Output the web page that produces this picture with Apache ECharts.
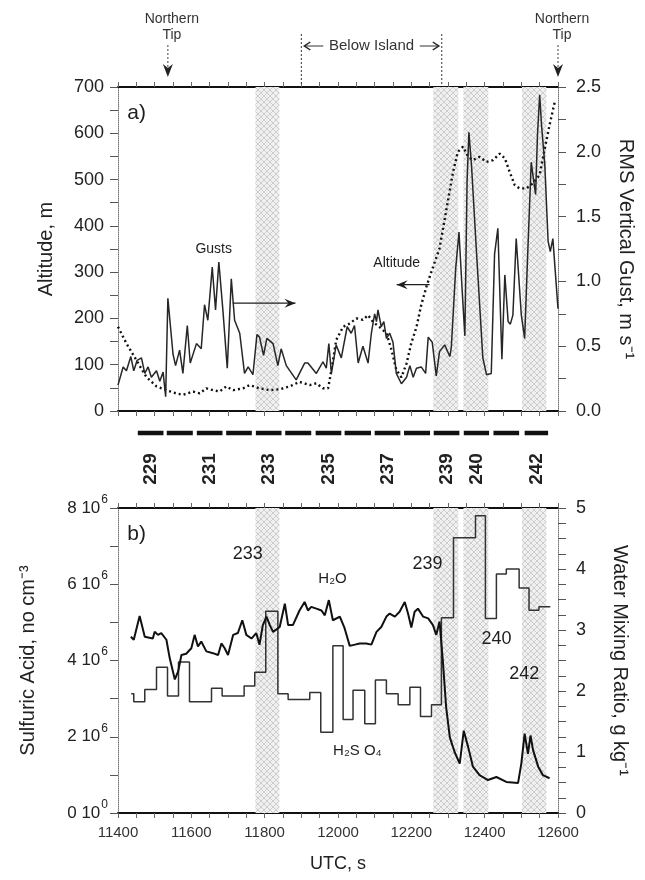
<!DOCTYPE html>
<html>
<head>
<meta charset="utf-8">
<script src="https://cdn.jsdelivr.net/npm/echarts@6.0.0/dist/echarts.min.js"></script>
<style>
  html, body { margin: 0; padding: 0; background: #fff; }
  #chart { width: 645px; height: 880px; }
</style>
</head>
<body>
<div id="chart"></div>
<script>
// ---- time axis (UTC seconds) ----
const utcMin = 11400;
const utcMax = 12600;

// ---- panel a: RMS vertical gust, m/s  [UTC, value] ----
const gust = [
  [11400,0.20],[11414,0.34],[11423,0.31],[11435,0.42],[11443,0.31],[11452,0.39],[11464,0.41],
  [11473,0.29],[11482,0.34],[11491,0.26],[11505,0.31],[11514,0.23],[11523,0.30],[11530,0.11],
  [11536,0.87],[11550,0.44],[11557,0.35],[11568,0.47],[11577,0.29],[11589,0.66],[11597,0.37],
  [11614,0.52],[11627,0.48],[11636,0.82],[11645,0.70],[11657,1.11],[11666,0.78],[11675,1.15],
  [11686,0.78],[11698,0.33],[11709,1.02],[11718,0.70],[11732,0.60],[11745,0.29],[11755,0.34],
  [11768,0.28],[11779,0.59],[11786,0.57],[11797,0.43],[11806,0.56],[11823,0.52],[11836,0.35],
  [11845,0.48],[11859,0.35],[11886,0.24],[11909,0.37],[11918,0.37],[11941,0.29],[11959,0.38],
  [11968,0.33],[11975,0.52],[11982,0.29],[11995,0.51],[12009,0.41],[12025,0.65],[12036,0.60],
  [12045,0.66],[12055,0.37],[12068,0.50],[12082,0.37],[12091,0.60],[12100,0.75],[12105,0.69],
  [12109,0.78],[12118,0.65],[12125,0.69],[12132,0.56],[12141,0.60],[12150,0.53],[12159,0.29],
  [12173,0.21],[12187,0.26],[12196,0.35],[12205,0.26],[12214,0.33],[12227,0.34],[12239,0.29],
  [12246,0.57],[12257,0.53],[12268,0.27],[12277,0.46],[12291,0.51],[12305,0.42],[12309,0.49],
  [12321,1.10],[12330,1.38],[12339,0.91],[12346,0.58],[12352,1.77],[12357,2.15],[12364,1.90],
  [12377,1.26],[12395,0.41],[12405,0.28],[12418,0.29],[12427,1.21],[12436,1.41],[12447,0.40],
  [12455,1.05],[12464,0.69],[12470,0.67],[12477,0.74],[12486,1.33],[12500,0.74],[12509,0.56],
  [12518,1.26],[12527,1.92],[12534,1.77],[12539,1.67],[12544,2.13],[12550,2.44],[12555,2.21],
  [12564,1.90],[12573,1.31],[12579,1.23],[12586,1.33],[12600,0.79]
];

// ---- panel a: aircraft altitude, m  [UTC, value] ----
const altitude = [
  [11400,182],[11423,146],[11450,110],[11477,74],[11505,53],[11532,45],[11559,38],[11577,35],
  [11605,42],[11623,38],[11641,49],[11659,45],[11677,42],[11695,53],[11714,45],[11741,49],
  [11759,56],[11786,49],[11814,45],[11841,47],[11868,53],[11895,63],[11923,56],[11941,60],
  [11959,49],[11973,49],[11982,88],[11995,153],[12014,182],[12032,189],[12050,200],[12068,197],
  [12082,207],[12096,192],[12114,181],[12132,168],[12146,132],[12159,89],[12173,73],[12187,103],
  [12200,147],[12214,181],[12227,229],[12241,268],[12250,290],[12277,352],[12296,437],[12314,517],
  [12327,560],[12341,571],[12355,549],[12368,542],[12386,549],[12405,538],[12423,542],[12441,556],
  [12455,546],[12468,517],[12482,488],[12495,481],[12514,481],[12532,492],[12550,510],[12564,567],
  [12577,618],[12591,667]
];

// ---- panel b: sulfuric acid, 10^6 cm^-3 (value held from each time to the next) ----
const h2so4 = [
  [11436,3.13],[11443,2.92],[11473,3.24],[11505,3.82],[11535,3.07],[11565,3.96],[11595,2.92],
  [11655,3.27],[11684,3.07],[11744,3.33],[11773,3.69],[11803,5.29],[11836,3.13],[11864,2.98],
  [11923,3.16],[11953,2.12],[11986,4.39],[12014,2.45],[12041,3.22],[12073,2.34],[12102,3.49],
  [12132,3.13],[12164,2.84],[12196,3.30],[12225,2.53],[12255,2.84],[12282,5.12],[12315,7.22],
  [12375,7.80],[12402,5.10],[12432,6.27],[12459,6.40],[12494,5.90],[12521,5.32],[12548,5.41],
  [12579,5.41]
];

// ---- panel b: water mixing ratio, g/kg  [UTC, value] ----
const h2o = [
  [11435,2.89],[11443,2.84],[11459,3.23],[11473,2.89],[11495,2.86],[11500,2.97],[11509,2.92],
  [11518,2.95],[11532,2.84],[11541,2.54],[11555,2.19],[11564,2.32],[11573,2.59],[11586,2.61],
  [11600,2.70],[11609,2.92],[11618,2.73],[11627,2.81],[11641,2.65],[11659,2.62],[11673,2.59],
  [11682,2.78],[11691,2.70],[11700,2.59],[11714,2.92],[11727,2.95],[11739,3.16],[11750,2.92],
  [11764,2.86],[11777,2.95],[11786,2.76],[11795,3.08],[11805,3.22],[11814,3.08],[11823,2.97],
  [11841,3.05],[11855,3.43],[11864,3.08],[11877,3.08],[11895,3.32],[11909,3.46],[11918,3.32],
  [11927,3.38],[11941,3.35],[11955,3.32],[11964,3.24],[11975,3.49],[11986,3.16],[12005,3.22],
  [12018,3.03],[12032,2.74],[12046,2.76],[12059,2.78],[12077,2.78],[12091,2.76],[12105,2.97],
  [12118,3.05],[12132,3.22],[12141,3.27],[12155,3.22],[12168,3.30],[12182,3.46],[12191,3.27],
  [12200,3.04],[12209,3.30],[12218,3.35],[12232,3.22],[12246,3.19],[12259,3.08],[12268,2.92],
  [12277,3.14],[12286,2.49],[12295,1.73],[12305,1.24],[12318,1.00],[12332,0.81],[12343,1.35],
  [12355,1.08],[12368,0.76],[12386,0.62],[12409,0.54],[12432,0.59],[12459,0.51],[12491,0.49],
  [12500,0.81],[12509,1.30],[12518,0.97],[12525,1.27],[12532,1.03],[12546,0.76],[12559,0.62],
  [12577,0.57]
];

// ---- sampling intervals shaded in both panels [start, end] ----
const sampleBands = [[11775,11840],[12260,12328],[12342,12410],[12502,12568]];

// ---- flight legs 229..242 [start, end] and their printed numbers ----
const legSpans = [
  [11454,11524],[11533,11604],[11615,11685],[11695,11765],[11776,11846],[11856,11927],
  [11939,12009],[12018,12090],[12100,12170],[12180,12251],[12261,12331],[12343,12412],
  [12424,12494],[12509,12573]
];
const legNames = ['229','','231','','233','','235','','237','','239','240','','242'];

// ---- geographic markers above panel a ----
const tipTimes = [11536, 12600];
const belowIsland = [[11900, 12283]];

// ---- text notes ----
const panelATags = [[11451, 644]];
const panelATagText = ['a)'];
const panelANotes = [[11661, 350], [12160, 320]];
const panelANoteText = ['Gusts', 'Altitude'];
const panelAArrows = [[11713, 233, 11884, 233], [12250, 273, 12160, 273]];
const panelBTags = [[11451, 7.32]];
const panelBTagText = ['b)'];
const panelBLegs = [[11754, 6.80], [12244, 6.53], [12432, 4.57], [12508, 3.65]];
const panelBLegText = ['233', '239', '240', '242'];
const panelBNotes = [[11985, 6.14], [12053, 1.63]];
const panelBNoteText = ['H\u2082O', 'H\u2082S O\u2084'];

const FONT = '"Liberation Sans", Arial, Helvetica, sans-serif';
const INK = '#1e1e1e';

// light cross-hatch used for the sampling intervals
function hatchPattern() {
  const c = document.createElement('canvas');
  c.width = 6; c.height = 6;
  const g = c.getContext('2d');
  g.fillStyle = '#f0f0f0';
  g.fillRect(0, 0, 6, 6);
  g.strokeStyle = '#cdcdcd';
  g.lineWidth = 1;
  g.beginPath();
  g.moveTo(0, 0); g.lineTo(6, 6);
  g.moveTo(6, 0); g.lineTo(0, 6);
  g.stroke();
  return c;
}
const hatch = { image: hatchPattern(), repeat: 'repeat' };
const bandArea = {
  silent: true,
  itemStyle: { color: hatch },
  data: sampleBands.map(b => [{ xAxis: b[0] }, { xAxis: b[1] }])
};

function timeAxis(grid, pos, withLabels) {
  return {
    type: 'value', gridIndex: grid, position: pos,
    min: utcMin, max: utcMax, interval: 200,
    axisLine: { onZero: false, lineStyle: { color: '#111', width: 2 } },
    axisTick: { show: true, length: 5, lineStyle: { color: '#666', width: 1 } },
    minorTick: { show: true, splitNumber: 4, length: 5, lineStyle: { color: '#666', width: 1 } },
    splitLine: { show: false },
    axisLabel: withLabels
      ? { show: true, formatter: v => String(v), fontFamily: FONT, fontSize: 15, color: '#333', margin: 12 }
      : { show: false }
  };
}
function hiddenAxis(grid) {
  return { type: 'value', gridIndex: grid, min: 0, max: 1, show: false,
           splitLine: { show: false } };
}
function valueAxis(grid, pos, min, max, interval, minorSplit, fmt, name, nameGap, nameRotate, labelMargin) {
  return {
    type: 'value', gridIndex: grid, position: pos, min, max, interval,
    axisLine: { show: true, onZero: false, lineStyle: { color: '#777', width: 1, type: 'dotted' } },
    axisTick: { show: true, length: 8, lineStyle: { color: '#555', width: 1 } },
    minorTick: { show: true, splitNumber: minorSplit, length: 8, lineStyle: { color: '#555', width: 1 } },
    splitLine: { show: false },
    axisLabel: {
      formatter: fmt, fontFamily: FONT, fontSize: 18, color: '#222', margin: labelMargin,
      rich: {
        m: { fontFamily: FONT, fontSize: 17, color: '#222', padding: [6, 0, 6, 0] },
        e: { fontFamily: FONT, fontSize: 12, color: '#222', verticalAlign: 'top', padding: [0, 0, 4, 1] }
      }
    },
    name, nameLocation: 'middle', nameGap, nameRotate,
    nameTextStyle: { fontFamily: FONT, fontSize: 20, color: '#222' }
  };
}

function textSeries(xi, yi, pts, texts, font) {
  return {
    type: 'custom', xAxisIndex: xi, yAxisIndex: yi, silent: true, clip: false, z: 5,
    data: pts,
    renderItem: (p, api) => {
      const c = api.coord([api.value(0), api.value(1)]);
      return { type: 'text', x: c[0], y: c[1],
               style: { text: texts[p.dataIndex], align: 'center', verticalAlign: 'middle', font, fill: INK } };
    }
  };
}

function arrowSeries(xi, yi, arrows) {
  return {
    type: 'custom', xAxisIndex: xi, yAxisIndex: yi, silent: true, clip: false, z: 5,
    data: arrows,
    renderItem: (p, api) => {
      const a = api.coord([api.value(0), api.value(1)]);
      const b = api.coord([api.value(2), api.value(3)]);
      const dir = b[0] > a[0] ? 1 : -1;
      return { type: 'group', children: [
        { type: 'line', shape: { x1: a[0], y1: a[1], x2: b[0], y2: b[1] },
          style: { stroke: INK, lineWidth: 1.3 } },
        { type: 'polygon', shape: { points: [[b[0], b[1]], [b[0] - dir * 11, b[1] - 4.5],
                                             [b[0] - dir * 7, b[1]], [b[0] - dir * 11, b[1] + 4.5]] },
          style: { fill: INK } }
      ] };
    }
  };
}

const chart = echarts.init(document.getElementById('chart'), null, { renderer: 'canvas' });

chart.setOption({
  animation: false,
  backgroundColor: '#fff',
  grid: [
    { left: 118, width: 440, top: 87, height: 324 },
    { left: 118, width: 440, top: 508, height: 305 },
    { left: 118, width: 440, top: 425, height: 70 },
    { left: 118, width: 440, top: 0, height: 87 }
  ],
  xAxis: [
    timeAxis(0, 'bottom', false),
    timeAxis(0, 'top', false),
    Object.assign(timeAxis(1, 'bottom', true), {
      name: 'UTC, s', nameLocation: 'middle', nameGap: 42,
      nameTextStyle: { fontFamily: FONT, fontSize: 18, color: '#222' }
    }),
    timeAxis(1, 'top', false),
    { type: 'value', gridIndex: 2, min: utcMin, max: utcMax, show: false, splitLine: { show: false } },
    { type: 'value', gridIndex: 3, min: utcMin, max: utcMax, show: false, splitLine: { show: false } }
  ],
  yAxis: [
    valueAxis(0, 'left', 0, 700, 100, 2, v => String(v), 'Altitude, m', 62, 90, 14),
    valueAxis(0, 'right', 0, 2.5, 0.5, 2, v => v.toFixed(1), 'RMS Vertical Gust, m s\u207B\u00B9', 58, -90, 18),
    valueAxis(1, 'left', 0, 8, 2, 2,
              v => (v === 0 ? '{m|0 10}{e|0}' : '{m|' + v + ' 10}{e|6}'),
              'Sulfuric Acid, no cm\u207B\u00B3', 80, 90, 10),
    valueAxis(1, 'right', 0, 5, 1, 4, v => String(v), 'Water Mixing Ratio, g kg\u207B\u00B9', 52, -90, 18),
    hiddenAxis(2),
    hiddenAxis(3)
  ],
  series: [
    {
      name: 'Altitude', type: 'line', xAxisIndex: 0, yAxisIndex: 0, data: altitude,
      showSymbol: false, smooth: false, z: 3,
      lineStyle: { color: '#111', width: 2.4, type: [2, 3] },
      markArea: bandArea
    },
    {
      name: 'Gusts', type: 'line', xAxisIndex: 0, yAxisIndex: 1, data: gust,
      showSymbol: false, z: 4,
      lineStyle: { color: '#262626', width: 1.5 }
    },
    textSeries(0, 0, panelATags, panelATagText, '21px ' + FONT),
    textSeries(0, 0, panelANotes, panelANoteText, '14px ' + FONT),
    arrowSeries(0, 0, panelAArrows),
    {
      name: 'H2SO4', type: 'line', step: 'end', xAxisIndex: 2, yAxisIndex: 2, data: h2so4,
      showSymbol: false, z: 3,
      lineStyle: { color: '#333', width: 1.5 },
      markArea: bandArea
    },
    {
      name: 'H2O', type: 'line', xAxisIndex: 2, yAxisIndex: 3, data: h2o,
      showSymbol: false, z: 4,
      lineStyle: { color: '#111', width: 2 }
    },
    textSeries(2, 2, panelBTags, panelBTagText, '21px ' + FONT),
    textSeries(2, 2, panelBLegs, panelBLegText, '18px ' + FONT),
    textSeries(2, 2, panelBNotes, panelBNoteText, '15px ' + FONT),
    {
      // flight-leg bars with their numbers
      type: 'custom', xAxisIndex: 4, yAxisIndex: 4, silent: true, clip: false,
      data: legSpans,
      renderItem: (p, api) => {
        const s = api.coord([api.value(0), 0]);
        const e = api.coord([api.value(1), 0]);
        const gy = p.coordSys.y;
        return { type: 'group', children: [
          { type: 'line', shape: { x1: s[0], y1: gy + 8, x2: e[0], y2: gy + 8 },
            style: { stroke: '#111', lineWidth: 4.5 } },
          { type: 'text', x: (s[0] + e[0]) / 2, y: gy + 44, rotation: Math.PI / 2,
            style: { text: legNames[p.dataIndex], align: 'center', verticalAlign: 'middle',
                     font: 'bold 19px ' + FONT, fill: '#222' } }
        ] };
      }
    },
    {
      // "Northern Tip" markers
      type: 'custom', xAxisIndex: 5, yAxisIndex: 5, silent: true, clip: false,
      data: tipTimes.map(t => [t, 0]),
      renderItem: (p, api) => {
        const x = api.coord([api.value(0), 0])[0];
        const gy = p.coordSys.y;
        return { type: 'group', children: [
          { type: 'text', x: x + 4, y: gy + 19,
            style: { text: 'Northern', align: 'center', verticalAlign: 'middle', font: '14px ' + FONT, fill: '#333' } },
          { type: 'text', x: x + 4, y: gy + 35,
            style: { text: 'Tip', align: 'center', verticalAlign: 'middle', font: '14px ' + FONT, fill: '#333' } },
          { type: 'line', shape: { x1: x, y1: gy + 45, x2: x, y2: gy + 72 },
            style: { stroke: '#444', lineWidth: 1, lineDash: [2, 2] } },
          { type: 'polygon', shape: { points: [[x - 5, gy + 64], [x, gy + 77], [x + 5, gy + 64], [x, gy + 68]] },
            style: { fill: '#222' } }
        ] };
      }
    },
    {
      // "Below Island" span
      type: 'custom', xAxisIndex: 5, yAxisIndex: 5, silent: true, clip: false,
      data: belowIsland,
      renderItem: (p, api) => {
        const x1 = api.coord([api.value(0), 0])[0];
        const x2 = api.coord([api.value(1), 0])[0];
        const gy = p.coordSys.y;
        const y = gy + 46;
        const line = (a, b, c, d, dash) => ({ type: 'line', shape: { x1: a, y1: b, x2: c, y2: d },
          style: { stroke: '#333', lineWidth: 1, lineDash: dash || null } });
        return { type: 'group', children: [
          line(x1, gy + 34, x1, gy + 86, [2, 2]),
          line(x2, gy + 34, x2, gy + 86, [2, 2]),
          line(x1 + 3, y, x1 + 22, y),
          { type: 'polyline', shape: { points: [[x1 + 9, y - 4], [x1 + 3, y], [x1 + 9, y + 4]] },
            style: { stroke: '#222', lineWidth: 1.5, fill: null } },
          line(x2 - 22, y, x2 - 3, y),
          { type: 'polyline', shape: { points: [[x2 - 9, y - 4], [x2 - 3, y], [x2 - 9, y + 4]] },
            style: { stroke: '#222', lineWidth: 1.5, fill: null } },
          { type: 'text', x: (x1 + x2) / 2, y: y,
            style: { text: 'Below Island', align: 'center', verticalAlign: 'middle', font: '15px ' + FONT, fill: '#333' } }
        ] };
      }
    }
  ]
});
</script>
</body>
</html>
